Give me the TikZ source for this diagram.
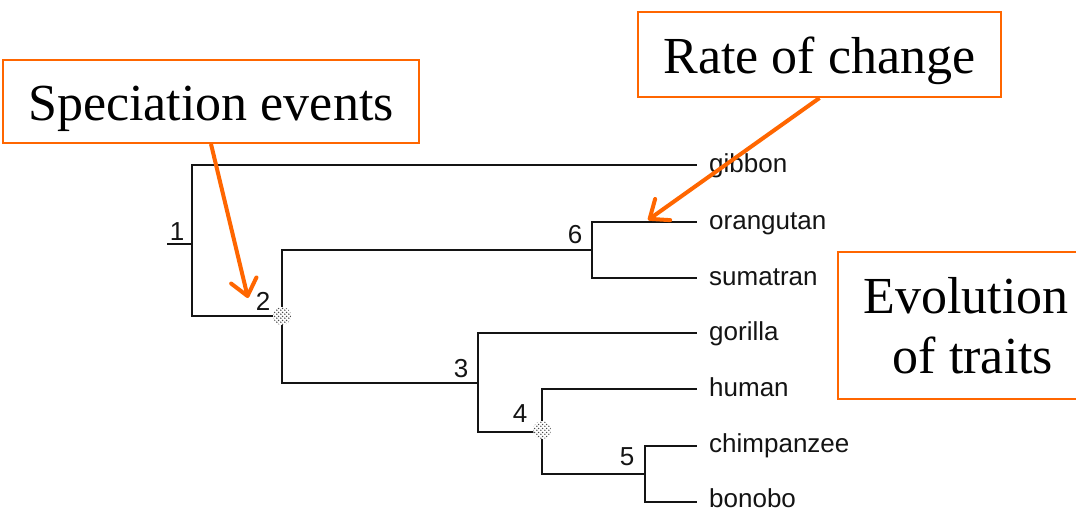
\documentclass[tikz,border=0pt]{standalone}
\usepackage{fontspec}
\setmainfont{Liberation Serif}
\newfontfamily\labelfont{Liberation Sans}
\usetikzlibrary{arrows.meta,patterns}
\pgfdeclarepatternformonly{chkdots}{\pgfpointorigin}{\pgfpoint{4pt}{4pt}}{\pgfpoint{4pt}{4pt}}{%
  \pgfpathcircle{\pgfpoint{1pt}{1pt}}{0.9pt}%
  \pgfpathcircle{\pgfpoint{3pt}{3pt}}{0.9pt}%
  \pgfusepath{fill}}
\definecolor{orng}{RGB}{255,102,0}
\definecolor{branchcol}{RGB}{20,20,20}
\begin{document}
\begin{tikzpicture}[x=1pt,y=-1pt,
  branch/.style={draw=branchcol,line width=2.6pt},
  leaf/.style={font=\labelfont\fontsize{26}{30}\selectfont,anchor=base west,inner sep=0pt,text=branchcol},
  num/.style={font=\labelfont\fontsize{26}{30}\selectfont,anchor=base,inner sep=0pt,text=branchcol},
  dotc/.style={circle,minimum size=18pt,inner sep=0pt,preaction={fill=white},pattern=chkdots,pattern color=black!70},
  callout/.style={draw=orng,line width=2pt,fill=white,inner sep=0pt,font=\fontsize{52}{62}\selectfont,text height=44pt,text depth=6pt},
  arr/.style={draw=orng,line width=4pt,-{Straight Barb[length=16pt,width=26pt,line cap=round,line join=round]}}]
\clip (0,0) rectangle (1076,511);
\fill[white] (0,0) rectangle (1076,511);
% internal nodes
\coordinate (root) at (167,244);
\coordinate (n1) at (192,244);
\coordinate (n2) at (282,316);
\coordinate (n6) at (592,250);
\coordinate (n3) at (478,383);
\coordinate (n4) at (542,432);
\coordinate (n5) at (645,474);
% leaf ends
\coordinate (tgib) at (697,165);
\coordinate (tora) at (697,222);
\coordinate (tsum) at (697,278);
\coordinate (tgor) at (697,333);
\coordinate (thum) at (697,389);
\coordinate (tchi) at (697,446);
\coordinate (tbon) at (697,502);
% branches
\draw[branch] (root) -- (n1);
\draw[branch] (n1) |- (tgib);
\draw[branch] (n1) |- (n2);
\draw[branch] (n2) |- (n6);
\draw[branch] (n2) |- (n3);
\draw[branch] (n6) |- (tora);
\draw[branch] (n6) |- (tsum);
\draw[branch] (n3) |- (tgor);
\draw[branch] (n3) |- (n4);
\draw[branch] (n4) |- (thum);
\draw[branch] (n4) |- (n5);
\draw[branch] (n5) |- (tchi);
\draw[branch] (n5) |- (tbon);
% dotted markers
\node[dotc] (d2) at (n2) {};
\node[dotc] (d4) at (542,430) {};
% leaf labels
\node[leaf] (lgib) at (709,172.5) {gibbon};
\node[leaf] (lora) at (709,229.5) {orangutan};
\node[leaf] (lsum) at (709,285.5) {sumatran};
\node[leaf] (lgor) at (709,340.5) {gorilla};
\node[leaf] (lhum) at (709,396.5) {human};
\node[leaf] (lchi) at (709,452.5) {chimpanzee};
\node[leaf] (lbon) at (709,507.5) {bonobo};
% node numbers
\node[num] (k1) at (177,240) {1};
\node[num] (k2) at (263,310) {2};
\node[num] (k3) at (461,377) {3};
\node[num] (k4) at (520,422) {4};
\node[num] (k5) at (627,465) {5};
\node[num] (k6) at (575,243) {6};
% callouts
\node[callout,minimum width=416pt,minimum height=83pt] (spec) at (211,101.5) {Speciation events};
\node[callout,minimum width=363pt,minimum height=85pt] (rate) at (819.5,54.5) {Rate of change};
\node[callout,minimum width=256pt,minimum height=147pt,align=center,text height=,text depth=] (evo) at (966,325.5) {Evolution\\[-2pt]\hspace*{14pt}of traits};
\coordinate (a1) at (248,298);
\coordinate (a2) at (648,220);
\draw[arr] (spec.south) -- (a1);
\draw[arr] (rate.south) -- (a2);
\end{tikzpicture}
\end{document}
